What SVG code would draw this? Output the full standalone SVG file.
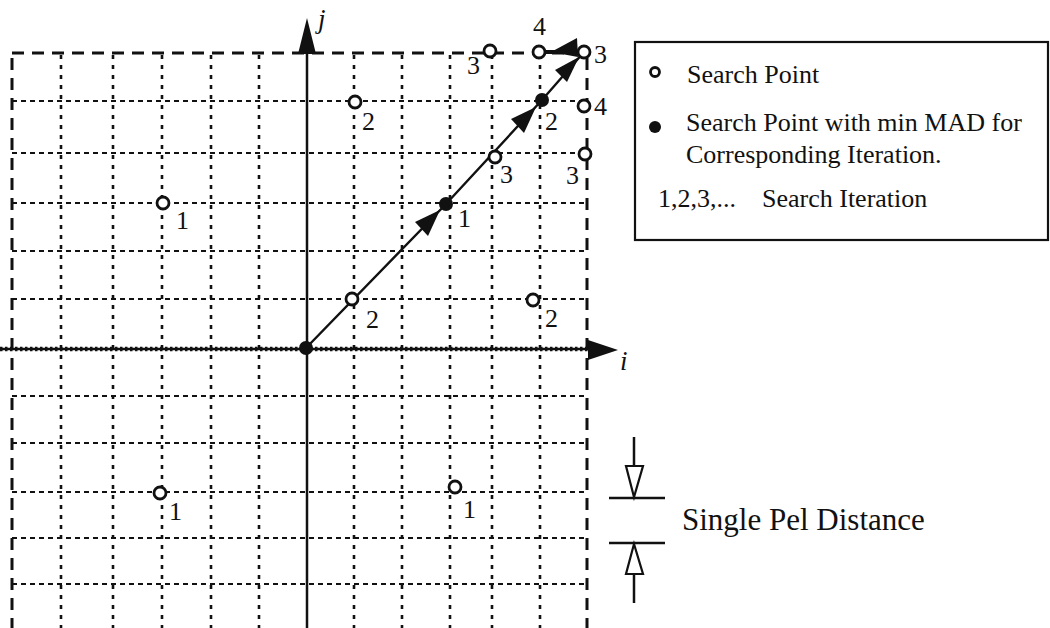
<svg xmlns="http://www.w3.org/2000/svg" width="1050" height="628" viewBox="0 0 1050 628">
<style>
.hg{stroke:#111;stroke-width:2.2;stroke-dasharray:5 4;fill:none}
.vg{stroke:#111;stroke-width:2.6;stroke-dasharray:4 6;fill:none}
.bd{stroke:#111;stroke-width:3;stroke-dasharray:12 8;fill:none}
.ax{stroke:#111;stroke-width:2.5;fill:none}
.hp{fill:#fff;stroke:#111;stroke-width:2.8}
.fp{fill:#111;stroke:none}
.lbl{font-family:"Liberation Serif","Times New Roman",serif;font-size:26px;fill:#111}
.leg{font-family:"Liberation Serif","Times New Roman",serif;font-size:26px;fill:#111}
.axl{font-family:"Liberation Serif","Times New Roman",serif;font-size:27px;font-style:italic;fill:#111}
.ah{fill:#111;stroke:none}
.seg{stroke:#111;stroke-width:2.4;fill:none}
</style>
<rect width="1050" height="628" fill="#fff"/>
<g id="grid">
  <g class="hg">
    <line x1="12" y1="101" x2="587" y2="101"/>
    <line x1="12" y1="153" x2="587" y2="153"/>
    <line x1="12" y1="203" x2="587" y2="203"/>
    <line x1="12" y1="251" x2="587" y2="251"/>
    <line x1="12" y1="299" x2="587" y2="299"/>
    <line x1="12" y1="396" x2="587" y2="396"/>
    <line x1="12" y1="443" x2="587" y2="443"/>
    <line x1="12" y1="492" x2="587" y2="492"/>
    <line x1="12" y1="538" x2="587" y2="538"/>
    <line x1="12" y1="584" x2="587" y2="584"/>
  </g>
  <g class="vg">
    <line x1="61" y1="55" x2="61" y2="628"/>
    <line x1="113" y1="55" x2="113" y2="628"/>
    <line x1="162" y1="55" x2="162" y2="628"/>
    <line x1="211" y1="55" x2="211" y2="628"/>
    <line x1="259" y1="55" x2="259" y2="628"/>
    <line x1="354" y1="55" x2="354" y2="628"/>
    <line x1="402" y1="55" x2="402" y2="628"/>
    <line x1="450" y1="55" x2="450" y2="628"/>
    <line x1="492" y1="55" x2="492" y2="628"/>
    <line x1="540" y1="55" x2="540" y2="628"/>
  </g>
  <g class="bd">
    <line x1="12" y1="53" x2="587" y2="53"/>
    <line x1="12" y1="58" x2="12" y2="628"/>
    <line x1="587" y1="58" x2="587" y2="628"/>
  </g>
</g>
<g id="axes">
  <line class="ax" x1="307" y1="628" x2="307" y2="40"/>
  <polygon class="ah" points="307,18 298,54 316,54"/>
  <text class="axl" x="318" y="28">j</text>
  <line x1="0" y1="349" x2="595" y2="349" stroke="#111" stroke-width="2.5"/>
  <line x1="0" y1="349" x2="595" y2="349" stroke="#111" stroke-width="4.5" stroke-dasharray="2.5 2.5"/>
  <polygon class="ah" points="618,350 588,340 588,360"/>
  <text class="axl" x="620" y="370">i</text>
</g>
<g id="connectors">
  <polyline class="seg" points="306,348 446,204 542,100 584,52"/>
  <polygon class="ah" points="440,210 415,222 428,236"/>
  <polygon class="ah" points="536,107 511,119 524,133"/>
  <polygon class="ah" points="579,57 555,70 567,82"/>
  <line x1="545" y1="52" x2="578" y2="52" stroke="#111" stroke-width="4"/>
  <polygon class="ah" points="551,52 577,38 578,57"/>
</g>
<g id="points">
  <g id="p-origin"><circle class="fp" cx="306" cy="348" r="7"/></g>
  <g id="p1a"><circle class="hp" cx="163" cy="203" r="6"/><text class="lbl" x="176" y="229">1</text></g>
  <g id="p1b"><circle class="hp" cx="160" cy="493" r="6"/><text class="lbl" x="169" y="520">1</text></g>
  <g id="p1c"><circle class="hp" cx="455" cy="487" r="6"/><text class="lbl" x="463" y="518">1</text></g>
  <g id="p1min"><circle class="fp" cx="446" cy="204" r="7"/><text class="lbl" x="458" y="227">1</text></g>
  <g id="p2a"><circle class="hp" cx="352" cy="299" r="6"/><text class="lbl" x="366" y="328">2</text></g>
  <g id="p2b"><circle class="hp" cx="355" cy="102" r="6"/><text class="lbl" x="362" y="130">2</text></g>
  <g id="p2c"><circle class="hp" cx="533" cy="300" r="6"/><text class="lbl" x="545" y="327">2</text></g>
  <g id="p2min"><circle class="fp" cx="542" cy="100" r="7"/><text class="lbl" x="545" y="130">2</text></g>
  <g id="p3a"><circle class="hp" cx="495" cy="157" r="6"/><text class="lbl" x="500" y="183">3</text></g>
  <g id="p3b"><circle class="hp" cx="490" cy="51" r="6"/><text class="lbl" x="467" y="74">3</text></g>
  <g id="p3c"><circle class="hp" cx="584" cy="52" r="6"/><text class="lbl" x="594" y="63">3</text></g>
  <g id="p3d"><circle class="hp" cx="585" cy="154" r="6"/><text class="lbl" x="566" y="184">3</text></g>
  <g id="p4a"><circle class="hp" cx="539" cy="52" r="6"/><text class="lbl" x="533" y="35">4</text></g>
  <g id="p4b"><circle class="hp" cx="584" cy="106" r="6"/><text class="lbl" x="594" y="115">4</text></g>
</g>
<g id="legend">
  <rect x="635" y="42" width="413" height="198" fill="#fff" stroke="#111" stroke-width="2.2"/>
  <circle class="hp" cx="655" cy="72" r="4.5" stroke-width="2.8"/>
  <text class="leg" x="687" y="83">Search Point</text>
  <circle class="fp" cx="655" cy="127" r="6"/>
  <text class="leg" x="686" y="131">Search Point with min MAD for</text>
  <text class="leg" x="686" y="163">Corresponding Iteration.</text>
  <text class="leg" x="658" y="207">1,2,3,...</text>
  <text class="leg" x="762" y="207">Search Iteration</text>
</g>
<g id="pel-scale">
  <line class="ax" x1="634" y1="437" x2="634" y2="466"/>
  <polygon points="626,466 643,466 634,497" fill="#fff" stroke="#111" stroke-width="2.2"/>
  <line class="ax" x1="609" y1="498" x2="665" y2="498"/>
  <line class="ax" x1="609" y1="543" x2="665" y2="543"/>
  <polygon points="634,544 626,574 643,574" fill="#fff" stroke="#111" stroke-width="2.2"/>
  <line class="ax" x1="634" y1="574" x2="634" y2="603"/>
  <text class="leg" x="682" y="530" style="font-size:31px">Single Pel Distance</text>
</g>
</svg>
